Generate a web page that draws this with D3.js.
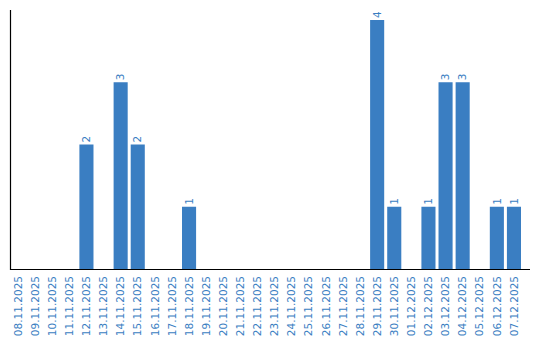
<!DOCTYPE html>
<html lang="en">
<head>
<meta charset="utf-8">
<title>Daily count</title>
<script src="https://d3js.org/d3.v7.min.js"></script>
<style>
  body { margin: 0; background: #fff; }
  .lbl { font: 10.5px "DejaVu Sans", Verdana, sans-serif; fill: #3a7ec2; }
</style>
</head>
<body>
<div id="chart"></div>
<script>
  // dates shown on the x axis
  var dates = ["08.11.2025","09.11.2025","10.11.2025","11.11.2025","12.11.2025","13.11.2025",
    "14.11.2025","15.11.2025","16.11.2025","17.11.2025","18.11.2025","19.11.2025","20.11.2025",
    "21.11.2025","22.11.2025","23.11.2025","24.11.2025","25.11.2025","26.11.2025","27.11.2025",
    "28.11.2025","29.11.2025","30.11.2025","01.12.2025","02.12.2025","03.12.2025","04.12.2025",
    "05.12.2025","06.12.2025","07.12.2025"];
  // count per day
  var counts = [0,0,0,0,2,0,3,2,0,0,1,0,0,0,0,0,0,0,0,0,0,4,1,0,1,3,3,0,1,1];
  var yMax = 4;

  var W = 540, H = 340;
  var margin = {top: 10, right: 10, bottom: 71, left: 11};
  var blue = "#3a7ec2";

  var svg = d3.select("#chart").append("svg")
    .attr("width", W).attr("height", H);

  var x = d3.scaleBand()
    .domain(dates)
    .range([margin.left, margin.left + 17 * dates.length])
    .paddingInner(3 / 17)
    .paddingOuter(0)
    .align(0);

  var y = d3.scaleLinear()
    .domain([0, yMax])
    .range([H - margin.bottom, 20]);

  var data = dates.map(function(d, i) { return {date: d, n: counts[i]}; });

  // bars
  svg.append("g").selectAll("rect")
    .data(data.filter(function(d) { return d.n > 0; }))
    .join("rect")
      .attr("x", function(d) { return x(d.date); })
      .attr("width", x.bandwidth())
      .attr("y", function(d) { return y(d.n); })
      .attr("height", function(d) { return y(0) - y(d.n); })
      .attr("fill", blue);

  // value labels
  svg.append("g").selectAll("text")
    .data(data.filter(function(d) { return d.n > 0; }))
    .join("text")
      .attr("class", "lbl")
      .attr("transform", function(d) {
        return "translate(" + (x(d.date) + x.bandwidth() / 2) + "," + (y(d.n) - 2) + ") rotate(-90)";
      })
      .attr("dy", "0.35em")
      .text(function(d) { return d.n; });

  // axes lines
  var base = H - margin.bottom;
  svg.append("line")
    .attr("x1", margin.left - 0.5).attr("x2", margin.left - 0.5)
    .attr("y1", margin.top).attr("y2", base + 1)
    .attr("stroke", "#000").attr("stroke-width", 1.2);
  svg.append("line")
    .attr("x1", margin.left - 1).attr("x2", W - margin.right)
    .attr("y1", base + 0.5).attr("y2", base + 0.5)
    .attr("stroke", "#000").attr("stroke-width", 1.2);

  // date labels
  svg.append("g").selectAll("text")
    .data(dates)
    .join("text")
      .attr("class", "lbl")
      .attr("text-anchor", "end")
      .attr("transform", function(d) {
        return "translate(" + (x(d) + x.bandwidth() / 2) + "," + (base + 7) + ") rotate(-90)";
      })
      .attr("dy", "0.35em")
      .text(function(d) { return d; });
</script>
</body>
</html>
